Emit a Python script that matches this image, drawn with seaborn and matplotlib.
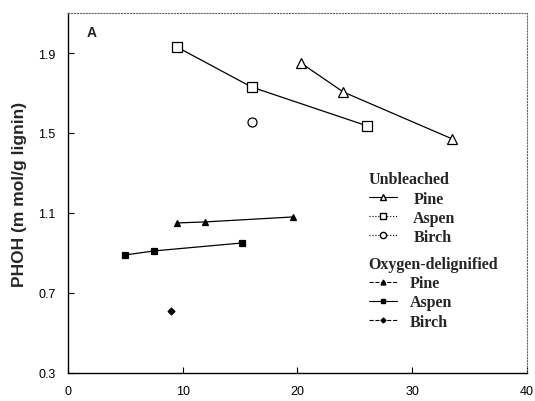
import seaborn as sns
import pandas as pd
import matplotlib.pyplot as plt
from matplotlib.lines import Line2D

# unbleached
ub_pine_x = [20.3, 24.0, 33.5]
ub_pine_y = [1.85, 1.705, 1.47]
ub_aspen_x = [9.5, 16.0, 26.1]
ub_aspen_y = [1.93, 1.73, 1.535]
ub_birch_x = [16.0]
ub_birch_y = [1.555]
# oxygen-delignified
od_pine_x = [9.5, 11.9, 19.6]
od_pine_y = [1.05, 1.055, 1.08]
od_aspen_x = [5.0, 7.5, 15.2]
od_aspen_y = [0.89, 0.91, 0.95]
od_birch_x = [9.0]
od_birch_y = [0.61]

sns.set_style('ticks')
fig = plt.figure(figsize=(5.35, 4.02), dpi=100)
ax = fig.add_axes([0.127, 0.07, 0.858, 0.895])

series = [
    (ub_pine_x, ub_pine_y, '^', 'white', 7.5),
    (ub_aspen_x, ub_aspen_y, 's', 'white', 7),
    (ub_birch_x, ub_birch_y, 'o', 'white', 6.5),
    (od_pine_x, od_pine_y, '^', 'black', 5),
    (od_aspen_x, od_aspen_y, 's', 'black', 5),
    (od_birch_x, od_birch_y, 'D', 'black', 3.5),
]
for xs, ys, m, fc, ms in series:
    sns.lineplot(x=xs, y=ys, marker=m, color='black', lw=0.9, ax=ax,
                 markerfacecolor=fc, markeredgecolor='black', markersize=ms,
                 markeredgewidth=0.9)

ax.set_xlim(0, 40)
ax.set_ylim(0.3, 2.1)
ax.set_xticks([0, 10, 20, 30, 40])
ax.set_yticks([0.3, 0.7, 1.1, 1.5, 1.9])
ax.set_yticklabels(['0.3', '0.7', '1.1', '1.5', '1.9'])
ax.tick_params(direction='in', length=4, labelsize=9, colors='black', pad=9)
for lab in ax.get_xticklabels() + ax.get_yticklabels():
    lab.set_family('Liberation Sans')
ax.set_ylabel('PHOH (m mol/g lignin)', fontsize=12.5, fontweight='bold',
              family='Liberation Sans', labelpad=8)
for s in ['top', 'right']:
    ax.spines[s].set_linestyle(':')
    ax.spines[s].set_color('#666666')
    ax.spines[s].set_linewidth(0.8)
for s in ['left', 'bottom']:
    ax.spines[s].set_color('black')
    ax.spines[s].set_linewidth(1.0)
ax.text(0.04, 0.967, 'A', transform=ax.transAxes, fontsize=10,
        fontweight='bold', family='Liberation Sans', va='top')

def handle(m, fc, ms, ls):
    return Line2D([], [], color='black', lw=0.8, ls=ls, marker=m,
                  markerfacecolor=fc, markeredgecolor='black', markersize=ms)

names = ['Pine', 'Aspen', 'Birch']
h1 = [handle('^', 'white', 5, '-'), handle('s', 'white', 5, ':'),
      handle('o', 'white', 4.5, ':')]
h2 = [handle('^', 'black', 3.5, '--'), handle('s', 'black', 3, '-'),
      handle('D', 'black', 2.5, '--')]
font = {'family': 'Liberation Serif', 'weight': 'bold', 'size': 11.5}
leg1 = ax.legend(h1, names, title='Unbleached', loc='upper left',
                 bbox_to_anchor=(0.655, 0.56), frameon=False, prop=font,
                 handlelength=1.8, handletextpad=1.0, labelspacing=0.2,
                 alignment='left', title_fontproperties=font, borderpad=0,
                 borderaxespad=0)
ax.add_artist(leg1)
ax.legend(h2, names, title='Oxygen-delignified', loc='upper left',
          bbox_to_anchor=(0.655, 0.325), frameon=False, prop=font,
          handlelength=1.8, handletextpad=0.8, labelspacing=0.2,
          alignment='left', title_fontproperties=font, borderpad=0,
          borderaxespad=0)

fig.savefig('out.png', dpi=100)
